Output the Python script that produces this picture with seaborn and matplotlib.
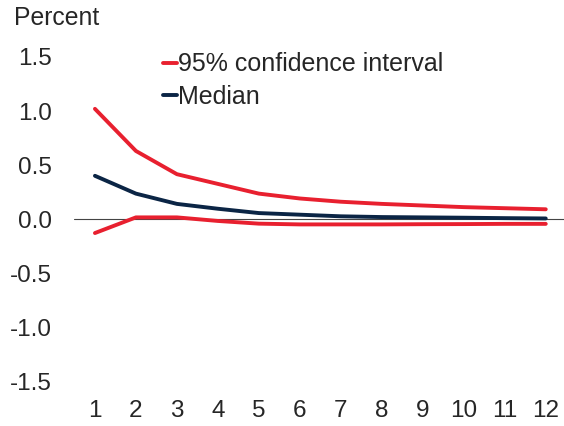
import pandas as pd
import matplotlib
matplotlib.use('Agg')
import matplotlib.pyplot as plt
import seaborn as sns

# данные
horizon = list(range(1, 13))
upper = [1.02, 0.63, 0.415, 0.325, 0.235, 0.19, 0.16, 0.14, 0.125, 0.11, 0.10, 0.09]
median = [0.40, 0.235, 0.14, 0.095, 0.055, 0.04, 0.025, 0.018, 0.015, 0.012, 0.008, 0.005]
lower = [-0.13, 0.015, 0.015, -0.018, -0.043, -0.05, -0.05, -0.05, -0.048, -0.047, -0.045, -0.045]

red = '#E8202F'
navy = '#0B2545'

sns.set_style('white')
plt.rcParams['font.family'] = ['Liberation Sans', 'DejaVu Sans']

df = pd.DataFrame({'h': horizon, 'upper': upper, 'median': median, 'lower': lower})

fig = plt.figure(figsize=(5.64, 4.26), dpi=100)
ax = fig.add_axes([0.132, 0.1056, 0.872, 0.7606])

ax.axhline(0, color='#444444', lw=0.8, zorder=1)
sns.lineplot(data=df, x='h', y='upper', color=red, lw=2.8, ax=ax, label='95% confidence interval')
sns.lineplot(data=df, x='h', y='lower', color=red, lw=2.8, ax=ax)
sns.lineplot(data=df, x='h', y='median', color=navy, lw=2.8, ax=ax, label='Median')

ax.set_xlim(0.5, 12.5)
ax.set_ylim(-1.5, 1.5)
ax.set_xticks(horizon)
ax.set_yticks([-1.5, -1.0, -0.5, 0.0, 0.5, 1.0, 1.5])
ax.set_yticklabels([f'{v:.1f}' for v in [-1.5, -1.0, -0.5, 0.0, 0.5, 1.0, 1.5]])
ax.tick_params(axis='both', length=0, labelsize=17.5)
ax.tick_params(axis='y', pad=16)
ax.tick_params(axis='x', pad=14)
ax.set_xlabel('')
ax.set_ylabel('')
for s in ax.spines.values():
    s.set_visible(False)

leg = ax.legend(loc='upper left', bbox_to_anchor=(0.16, 1.045), frameon=False,
                fontsize=18, handlelength=0.55, handletextpad=0.05, labelspacing=0.35,
                borderaxespad=0)

fig.text(0.025, 0.957, 'Percent', fontsize=17.8, va='center', ha='left')

fig.savefig('out.png', dpi=100)
